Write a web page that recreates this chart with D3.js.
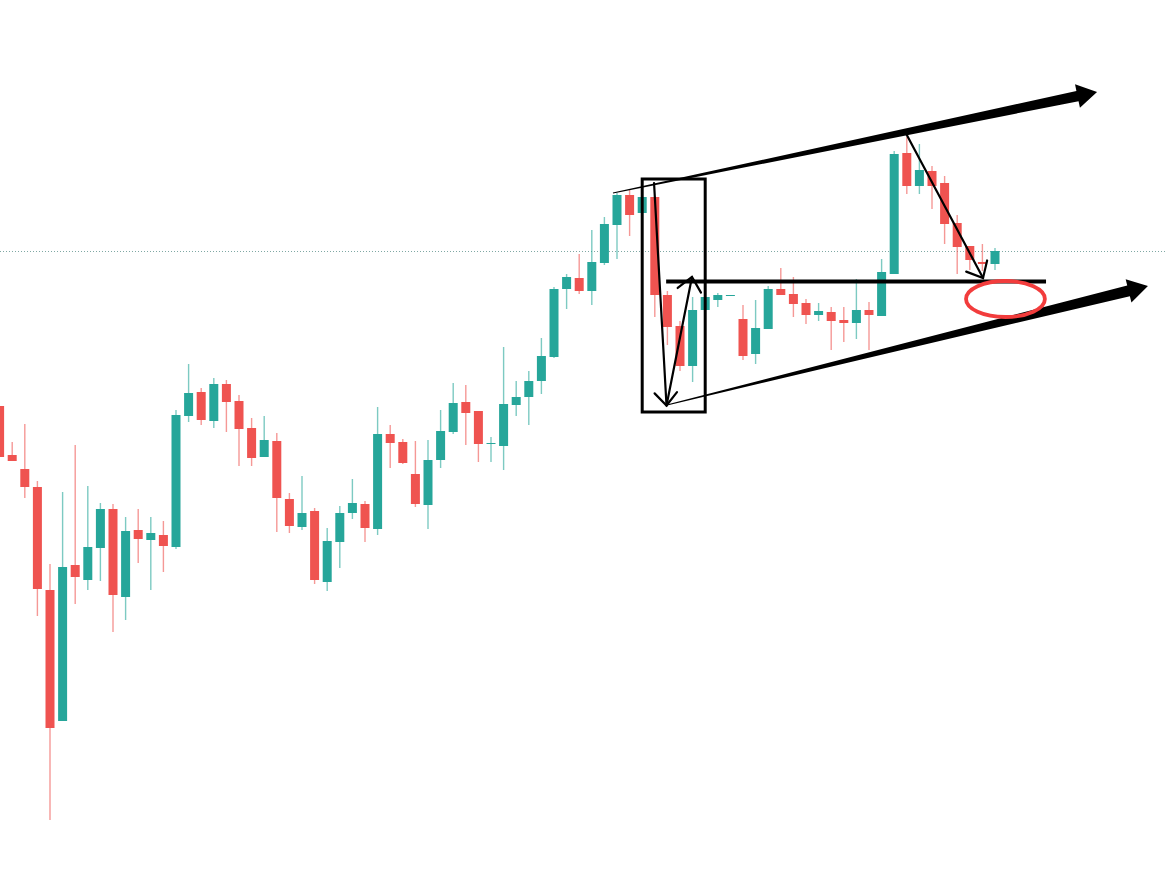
<!DOCTYPE html>
<html>
<head>
<meta charset="utf-8">
<script src="https://cdn.jsdelivr.net/npm/d3@7"></script>
<style>
  html, body { margin: 0; padding: 0; background: #ffffff; }
  svg { display: block; }
</style>
</head>
<body>
<svg id="chart" width="1167" height="869"></svg>
<script>
// OHLC series, one entry per bar
const opens = [
  49.4, 44.5, 43.1, 41.3, 31.0, 17.9, 33.5, 32.0, 35.2, 39.1,
  30.3, 37.0, 36.0, 36.5, 35.3, 48.4, 50.8, 47.9, 51.6, 49.9,
  47.2, 44.3, 45.9, 40.1, 37.3, 38.9, 31.8, 35.8, 38.7, 39.6,
  37.1, 46.6, 45.8, 42.6, 39.5, 44.0, 46.8, 49.8, 48.9, 45.65,
  45.4, 49.5, 50.3, 51.9, 54.3, 61.1, 62.2, 60.9, 63.7, 67.5,
  70.5, 68.7, 70.3, 60.5, 57.4, 53.4, 59.0, 60.0, 60.45, 58.1,
  54.6, 57.1, 61.1, 60.6, 59.7, 58.5, 58.8, 58.0, 57.7, 59.0,
  58.4, 62.6, 74.7, 71.4, 72.9, 71.7, 67.7, 65.4, 63.8, 63.6
];
const highs = [
  49.4, 45.8, 47.6, 41.9, 33.6, 40.8, 45.5, 41.4, 39.7, 39.6,
  38.3, 39.1, 38.3, 37.9, 49.0, 53.6, 51.2, 52.2, 52.0, 50.5,
  48.2, 48.4, 46.7, 40.7, 42.4, 39.2, 37.2, 39.4, 42.1, 39.9,
  49.3, 47.5, 46.1, 45.9, 46.0, 49.0, 51.7, 51.5, 48.9, 46.3,
  55.3, 51.9, 52.9, 56.2, 61.3, 62.6, 64.6, 67.0, 68.3, 70.7,
  71.0, 70.4, 70.4, 60.9, 57.9, 60.3, 60.3, 60.7, 60.5, 59.5,
  60.0, 61.4, 63.2, 62.3, 60.1, 59.7, 59.3, 59.3, 62.1, 59.8,
  64.1, 74.9, 76.3, 75.6, 73.4, 72.4, 68.5, 65.4, 65.6, 65.2
];
const lows = [
  44.3, 43.9, 40.2, 28.4, 8.0, 17.9, 29.6, 31.0, 31.9, 26.8,
  28.0, 33.7, 31.0, 32.8, 35.1, 47.8, 47.5, 47.2, 46.8, 43.4,
  43.4, 44.3, 36.8, 36.7, 37.0, 31.6, 30.9, 33.2, 38.1, 35.8,
  36.5, 43.2, 43.6, 39.3, 37.1, 43.2, 46.6, 45.5, 43.8, 43.8,
  43.0, 48.4, 47.5, 50.6, 54.2, 59.1, 60.6, 59.5, 63.5, 64.1,
  66.4, 68.6, 58.3, 55.5, 52.9, 51.8, 59.0, 59.3, 60.45, 54.0,
  53.6, 57.1, 60.5, 58.3, 57.6, 57.9, 55.0, 55.8, 56.1, 55.0,
  58.4, 62.6, 70.6, 70.6, 69.1, 65.6, 62.6, 63.0, 62.9, 63.0
];
const closes = [
  44.3, 43.9, 41.3, 31.1, 17.2, 33.3, 32.3, 35.3, 39.1, 30.5,
  36.9, 36.1, 36.7, 35.4, 48.5, 50.7, 48.0, 51.6, 49.8, 47.1,
  44.2, 46.0, 40.2, 37.4, 38.7, 32.0, 35.9, 38.7, 39.7, 37.2,
  46.6, 45.7, 43.7, 39.6, 44.0, 46.9, 49.7, 48.7, 45.6, 45.7,
  49.6, 50.3, 51.9, 54.4, 61.1, 62.3, 60.9, 63.8, 67.6, 70.5,
  68.5, 70.3, 60.5, 57.3, 53.4, 59.0, 60.3, 60.5, 60.5, 54.4,
  57.2, 61.1, 60.5, 59.6, 58.5, 58.9, 57.9, 57.7, 59.0, 58.5,
  62.8, 74.6, 71.4, 73.0, 71.4, 67.6, 65.3, 64.0, 63.6, 64.9
];

// Drawing overlays, positioned in (bar index, price)
const channelUpper = [[48.68, 70.7], [87.1, 80.8]];
const channelLower = [[52.97, 49.5], [91.14, 61.4]];
const dropBox = [[51.0, 72.1], [56.0, 48.8]];
const dropLeg = [[51.94, 71.7], [52.93, 49.45]];
const reboundLeg = [[52.93, 49.45], [54.95, 62.3]];
const pullbackLeg = [[72.0, 76.5], [78.05, 62.2]];
const supportLine = [[52.9, 61.85], [83.05, 61.85]];
const retestZone = { center: [79.83, 60.1], rx: 3.13, ry: 1.8 };

const W = 1167, H = 869;
const UP = "#26a69a", DOWN = "#ef5350";

const bars = opens.map((o, i) => ({ i, o, h: highs[i], l: lows[i], c: closes[i] }));

const x = d3.scaleLinear().domain([0, bars.length - 1]).range([-0.4, 995]);
const y = d3.scaleLinear().domain([0, 90]).range([900, 0]);

const svg = d3.select("#chart");
svg.append("rect").attr("width", W).attr("height", H).attr("fill", "#ffffff");

// last price line
const last = closes[closes.length - 1];
svg.append("line")
  .attr("x1", 0).attr("x2", W)
  .attr("y1", Math.round(y(last)) + 0.5).attr("y2", Math.round(y(last)) + 0.5)
  .attr("stroke", "#7fa8a4").attr("stroke-width", 1)
  .attr("stroke-dasharray", "1,2");

const candles = svg.append("g").attr("class", "candles");
const bodyW = 9;

candles.selectAll("line.wick").data(bars).join("line")
  .attr("class", "wick")
  .attr("x1", d => x(d.i)).attr("x2", d => x(d.i))
  .attr("y1", d => y(d.h)).attr("y2", d => y(d.l))
  .attr("stroke", d => d.c >= d.o ? UP : DOWN)
  .attr("stroke-opacity", 0.6)
  .attr("stroke-width", 1.4);

candles.selectAll("rect.body").data(bars).join("rect")
  .attr("class", "body")
  .attr("x", d => x(d.i) - bodyW / 2)
  .attr("width", bodyW)
  .attr("y", d => y(Math.max(d.o, d.c)))
  .attr("height", d => Math.max(1, Math.abs(y(d.o) - y(d.c))))
  .attr("fill", d => d.c >= d.o ? UP : DOWN);

// helpers
const px = p => [x(p[0]), y(p[1])];

function taperedArrow(g, from, to, w0, w1, headLen, headHalf) {
  const [sx, sy] = px(from), [tx, ty] = px(to);
  const len = Math.hypot(tx - sx, ty - sy);
  const ux = (tx - sx) / len, uy = (ty - sy) / len;
  const nx = -uy, ny = ux;
  const bx = tx - ux * headLen, by = ty - uy * headLen;
  const pts = [
    [sx + nx * w0 / 2, sy + ny * w0 / 2],
    [bx + nx * w1 / 2, by + ny * w1 / 2],
    [bx + nx * headHalf, by + ny * headHalf],
    [tx, ty],
    [bx - nx * headHalf, by - ny * headHalf],
    [bx - nx * w1 / 2, by - ny * w1 / 2],
    [sx - nx * w0 / 2, sy - ny * w0 / 2]
  ];
  g.append("path")
    .attr("d", d3.line()(pts) + "Z")
    .attr("fill", "#000000");
}

function lineArrow(g, from, to, width, armLen, armAngle) {
  const [sx, sy] = px(from), [tx, ty] = px(to);
  const ang = Math.atan2(sy - ty, sx - tx);
  g.append("line")
    .attr("x1", sx).attr("y1", sy).attr("x2", tx).attr("y2", ty)
    .attr("stroke", "#000").attr("stroke-width", width)
    .attr("stroke-linecap", "round");
  const arms = [ang + armAngle, ang - armAngle].map(a => [tx + Math.cos(a) * armLen, ty + Math.sin(a) * armLen]);
  g.append("path")
    .attr("d", d3.line()([arms[0], [tx, ty], arms[1]]))
    .attr("fill", "none").attr("stroke", "#000")
    .attr("stroke-width", width).attr("stroke-linejoin", "miter")
    .attr("stroke-linecap", "round");
}

const ann = svg.append("g").attr("class", "drawings");

taperedArrow(ann, channelUpper[0], channelUpper[1], 0.8, 10.5, 20, 12);
taperedArrow(ann, channelLower[0], channelLower[1], 0.8, 11, 20, 12);

// box around the sharp drop
const [bx0, by0] = px(dropBox[0]), [bx1, by1] = px(dropBox[1]);
ann.append("rect")
  .attr("x", bx0).attr("y", by0)
  .attr("width", bx1 - bx0).attr("height", by1 - by0)
  .attr("fill", "none").attr("stroke", "#000").attr("stroke-width", 3);

lineArrow(ann, dropLeg[0], dropLeg[1], 2.2, 17, 0.72);
lineArrow(ann, reboundLeg[0], reboundLeg[1], 2.2, 18, 0.72);
lineArrow(ann, pullbackLeg[0], pullbackLeg[1], 2.2, 18, 0.72);

// horizontal support level
const [hx0, hy] = px(supportLine[0]), [hx1] = px(supportLine[1]);
ann.append("line")
  .attr("x1", hx0).attr("x2", hx1).attr("y1", hy).attr("y2", hy)
  .attr("stroke", "#000").attr("stroke-width", 4);

// retest zone
const [ex, ey] = px(retestZone.center);
ann.append("ellipse")
  .attr("cx", ex).attr("cy", ey)
  .attr("rx", x(retestZone.rx) - x(0))
  .attr("ry", y(0) - y(retestZone.ry))
  .attr("fill", "none").attr("stroke", "#f23c3c").attr("stroke-width", 3.8);
</script>
</body>
</html>
